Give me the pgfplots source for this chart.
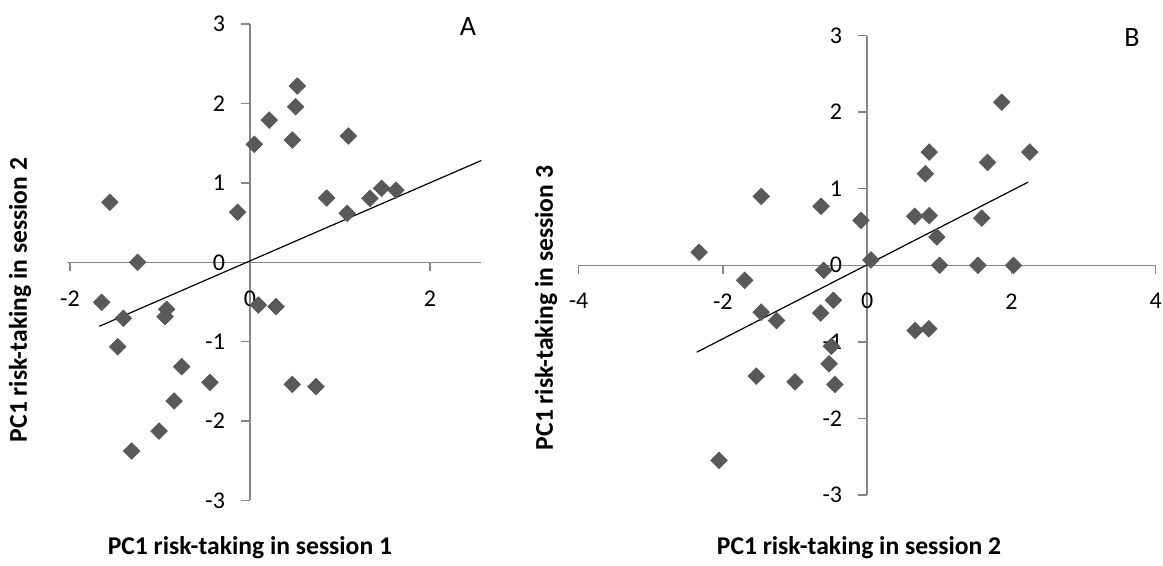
\documentclass[border=0pt]{standalone}
\usepackage{pgfplots}
\pgfplotsset{compat=1.18}
\usepackage{fontspec}
\setmainfont{Carlito}
\definecolor{mk}{RGB}{89,89,89}
\definecolor{axc}{RGB}{134,134,134}
\pgfplotstableread{
x y
-1.556 0.756
-1.248 0
-0.137 0.63
0.048 1.486
0.214 1.79
0.47 1.54
0.507 1.96
0.526 2.22
0.852 0.81
1.093 1.59
1.08 0.617
1.333 0.806
1.463 0.932
1.622 0.91
-1.648 -0.504
-1.407 -0.705
-0.926 -0.592
-0.944 -0.685
-1.470 -1.063
-0.759 -1.315
-0.444 -1.512
-0.844 -1.747
-1.011 -2.125
-1.315 -2.377
0.093 -0.538
0.289 -0.559
0.47 -1.537
0.733 -1.566
}\dataA
\pgfplotstableread{
x y
-2.33 0.17
-1.468 0.9
-0.638 0.77
-0.085 0.587
0.053 0.07
0.66 0.64
0.862 0.648
0.809 1.196
0.862 1.478
0.968 0.37
1.005 0
1.537 0
1.59 0.617
1.67 1.343
1.867 2.13
2.03 0
2.255 1.478
-1.697 -0.196
-0.601 -0.065
-1.468 -0.613
-1.255 -0.722
-0.644 -0.622
-0.468 -0.457
-0.495 -1.057
-0.527 -1.287
-0.447 -1.557
-1.537 -1.448
-1.0 -1.522
-2.053 -2.548
0.665 -0.852
0.856 -0.83
}\dataB
\pgfplotsset{
  myax/.style={
    scale only axis, anchor=south west,
    axis lines=middle,
    axis line style={axc, line width=0.7pt, -},
    every inner x axis line/.append style={-},
    every inner y axis line/.append style={-},
    hide obscured x ticks=false, hide obscured y ticks=false,
    tick style={axc, line width=0.7pt},
    major tick length=4.5pt,
    tick align=outside,
    ymin=-3, ymax=3,
    ytick={-3,-2,-1,0,1,2,3},
    yticklabels={-3,-2,-1,0,1,2,3},
    ticklabel style={font=\fontsize{12}{14}\selectfont, text=black},
    xticklabel style={anchor=center, yshift=-13.5pt},
    yticklabel style={anchor=east, xshift=-4.5pt},
    label style={font=\bfseries\fontsize{12.8}{15}\selectfont, text=black},
    clip=false,
  },
  mypts/.style={only marks, mark=square*, mark size=2.9pt, color=mk,
    mark options={rotate=45, fill=mk, draw=mk}},
}
\begin{document}
\begin{tikzpicture}
\path[use as bounding box] (0,0) rectangle (581.5pt,283pt);
\begin{axis}[myax,
  at={(33.65pt,32.75pt)}, width=207pt, height=238.2pt,
  xmin=-2.03, xmax=2.57,
  xtick={-2,0,2}, xticklabels={-2,0,2},
  xlabel={PC1 risk-taking in session 1},
  ylabel={PC1 risk-taking in session 2},
  xlabel style={at={(axis description cs:0.441,-0.0997)}, anchor=center},
  ylabel style={at={(axis description cs:-0.114,0.421)}, anchor=center, rotate=90},
]
\addplot[mypts] table[x=x,y=y] {\dataA};
\addplot[black, line width=0.6pt] coordinates {(-1.674,-0.806) (2.57,1.282)};
\node[font=\fontsize{14}{16}\selectfont] at (axis description cs:0.968,0.994) {A};
\end{axis}
\begin{axis}[myax,
  at={(289.3pt,35.5pt)}, width=288.5pt, height=229.7pt,
  xmin=-4, xmax=4,
  xtick={-4,-2,0,2,4}, xticklabels={-4,-2,0,2,4},
  xlabel={PC1 risk-taking in session 2},
  ylabel={PC1 risk-taking in session 3},
  xlabel style={at={(axis description cs:0.486,-0.115)}, anchor=center},
  ylabel style={at={(axis description cs:-0.0565,0.407)}, anchor=center, rotate=90},
]
\addplot[mypts] table[x=x,y=y] {\dataB};
\addplot[black, line width=0.6pt] coordinates {(-2.362,-1.135) (2.234,1.087)};
\node[font=\fontsize{14}{16}\selectfont] at (axis description cs:0.959,0.995) {B};
\end{axis}
\end{tikzpicture}
\end{document}
